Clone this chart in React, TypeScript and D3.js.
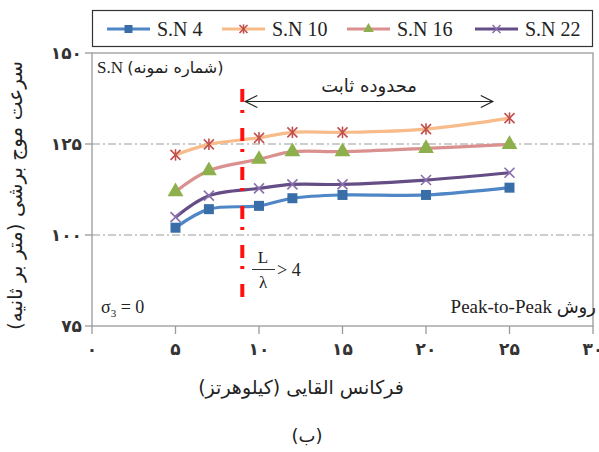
import React from "react";
import * as d3 from "d3";

// Shear-wave velocity vs. induced frequency for four samples
const frequencies = [5, 7, 10, 12, 15, 20, 25];
const sn4 = [102.0, 107.1, 108.0, 110.1, 111.0, 111.0, 113.0];
const sn10 = [122.0, 124.9, 126.7, 128.2, 128.2, 129.1, 132.1];
const sn16 = [111.9, 117.7, 120.8, 122.9, 122.9, 123.8, 124.9];
const sn22 = [104.9, 110.8, 112.8, 113.9, 113.9, 115.1, 117.1];
const seriesNames = ["S.N 4", "S.N 10", "S.N 16", "S.N 22"];
const xTickValues = [0, 5, 10, 15, 20, 25, 30];
const yTickValues = [75, 100, 125, 150];
const gridValues = [100, 125];
const thresholdFreq = 9;

const W = 599;
const H = 452;
const left = 92;
const right = 593;
const top = 53;
const bottom = 326;

const serif = "'Liberation Serif', 'Times New Roman', serif";
const persian = "'DejaVu Sans', 'Noto Sans', sans-serif";

const faDigits = (n: number) =>
  String(n).replace(/[0-9]/g, (d) => "۰۱۲۳۴۵۶۷۸۹"[+d]);

type Marker = "square" | "star" | "triangle" | "cross";
const styles: { line: string; mark: string; marker: Marker }[] = [
  { line: "#4f86c6", mark: "#3a6ea8", marker: "square" },
  { line: "#f8bb8a", mark: "#c0504d", marker: "star" },
  { line: "#d9908e", mark: "#8db04c", marker: "triangle" },
  { line: "#654e86", mark: "#8a70ad", marker: "cross" },
];

function MarkerShape({ kind, x, y, color, size }: { kind: Marker; x: number; y: number; color: string; size: number }) {
  const h = size / 2;
  if (kind === "square") {
    return <rect x={x - h} y={y - h} width={size} height={size} fill={color} />;
  }
  if (kind === "triangle") {
    const p = d3.symbol(d3.symbolTriangle, size * size * 0.75)();
    return <path d={p || ""} transform={`translate(${x},${y})`} fill={color} />;
  }
  const lines = [
    [x - h, y - h, x + h, y + h],
    [x - h, y + h, x + h, y - h],
  ];
  if (kind === "star") lines.push([x, y - h * 1.15, x, y + h * 1.15]);
  return (
    <g stroke={color} strokeWidth={1.6}>
      {lines.map((l, i) => (
        <line key={i} x1={l[0]} y1={l[1]} x2={l[2]} y2={l[3]} />
      ))}
    </g>
  );
}

export default function App() {
  const x = d3.scaleLinear().domain([0, 30]).range([left, right]);
  const y = d3.scaleLinear().domain([75, 150]).range([bottom, top]);
  const allSeries = [sn4, sn10, sn16, sn22];
  const line = d3
    .line<number>()
    .x((_, i) => x(frequencies[i]))
    .y((v) => y(v))
    .curve(d3.curveCatmullRom.alpha(0.5));

  const drawOrder = [1, 2, 3, 0];
  const legendX = [107, 222, 347, 475];
  const legendY = 29;

  const arrowY = 101.5;
  const arrowX0 = x(thresholdFreq) + 3;
  const arrowX1 = x(24.0);

  return (
    <svg
      width={W}
      height={H}
      viewBox={`0 0 ${W} ${H}`}
      style={{ position: "absolute", left: 0, top: 0, background: "#fff" }}
    >
      <rect x={0} y={0} width={W} height={H} fill="#fff" />

      {/* legend */}
      <rect x={92.5} y={10.5} width={500} height={36} fill="#fff" stroke="#333" strokeWidth={1.2} />
      {seriesNames.map((name, i) => (
        <g key={name}>
          <line x1={legendX[i]} x2={legendX[i] + 43} y1={legendY} y2={legendY} stroke={styles[i].line} strokeWidth={3} />
          <MarkerShape kind={styles[i].marker} x={legendX[i] + 21.5} y={legendY} color={styles[i].mark} size={8} />
          <text x={legendX[i] + 50} y={legendY + 7} fontFamily={serif} fontSize={20} fill="#222">
            {name}
          </text>
        </g>
      ))}

      {/* plot frame */}
      <rect x={left} y={top} width={right - left} height={bottom - top} fill="none" stroke="#9a9a9a" strokeWidth={1.3} />

      {/* grid */}
      {gridValues.map((g) => (
        <line key={g} x1={left} x2={right} y1={y(g)} y2={y(g)} stroke="#9c9c9c" strokeWidth={1.2} strokeDasharray="8,3,2,3" />
      ))}

      {/* y axis */}
      {yTickValues.map((t) => (
        <g key={t}>
          <line x1={left - 7} x2={left} y1={y(t)} y2={y(t)} stroke="#9a9a9a" strokeWidth={1.3} />
          <text x={left - 10} y={y(t) + 6} textAnchor="end" fontFamily={persian} fontSize={17} fontWeight="bold" fill="#333">
            {faDigits(t)}
          </text>
        </g>
      ))}
      {/* x axis */}
      {xTickValues.map((t) => (
        <g key={t}>
          <line x1={x(t)} x2={x(t)} y1={bottom} y2={bottom + 8} stroke="#9a9a9a" strokeWidth={1.3} />
          <text x={x(t)} y={bottom + 29} textAnchor="middle" fontFamily={persian} fontSize={17} fontWeight="bold" fill="#333">
            {faDigits(t)}
          </text>
        </g>
      ))}

      {/* series */}
      {drawOrder.map((i) => (
        <path key={`l${i}`} d={line(allSeries[i]) || ""} fill="none" stroke={styles[i].line} strokeWidth={3.2} />
      ))}
      {drawOrder.map((i) =>
        allSeries[i].map((v, j) => (
          <MarkerShape
            key={`m${i}-${j}`}
            kind={styles[i].marker}
            x={x(frequencies[j])}
            y={y(v)}
            color={styles[i].mark}
            size={styles[i].marker === "triangle" ? 12 : 10}
          />
        ))
      )}

      {/* threshold line */}
      <line
        x1={x(thresholdFreq)}
        x2={x(thresholdFreq)}
        y1={89}
        y2={300}
        stroke="#ff1010"
        strokeWidth={4}
        strokeDasharray="13,8,3,15"
      />

      {/* constant range arrow */}
      <g stroke="#222" strokeWidth={1.2} fill="none">
        <line x1={arrowX0} x2={arrowX1} y1={arrowY} y2={arrowY} />
        <polyline points={`${arrowX0 + 12},${arrowY - 6} ${arrowX0},${arrowY} ${arrowX0 + 12},${arrowY + 6}`} />
        <polyline points={`${arrowX1 - 12},${arrowY - 6} ${arrowX1},${arrowY} ${arrowX1 - 12},${arrowY + 6}`} />
      </g>
      <text x={(arrowX0 + arrowX1) / 2} y={92} textAnchor="middle" fontFamily={persian} fontSize={18} fill="#222">
        محدوده ثابت
      </text>

      {/* annotations */}
      <text x={97} y={73} fontFamily={serif} fontSize={17} fill="#222">
        S.N <tspan fontFamily={persian} fontSize={16}>(شماره نمونه)</tspan>
      </text>

      <text x={263} y={263} textAnchor="middle" fontFamily={serif} fontSize={17} fill="#222">L</text>
      <line x1={252} x2={275} y1={269.5} y2={269.5} stroke="#333" strokeWidth={1} />
      <text x={263} y={288} textAnchor="middle" fontFamily={serif} fontSize={17} fill="#222">λ</text>
      <text x={277} y={276} fontFamily={serif} fontSize={18} fill="#222">&gt; 4</text>

      <text x={101} y={313} fontFamily={serif} fontSize={18} fill="#222">
        σ<tspan fontSize={11} dy={4}>3</tspan>
        <tspan dy={-4}> = 0</tspan>
      </text>

      <text x={596} y={313} direction="rtl" textAnchor="start" fontFamily={serif} fontSize={19} fill="#222" style={{ direction: "rtl", unicodeBidi: "embed" }}>
        <tspan fontFamily={persian} fontSize={18}>روش</tspan> Peak-to-Peak
      </text>

      {/* axis titles */}
      <text
        transform={`translate(22,${(top + bottom) / 2 + 6}) rotate(-90)`}
        textAnchor="middle"
        fontFamily={persian}
        fontSize={20}
        fill="#222"
      >
        سرعت موج برشی (متر بر ثانیه)
      </text>
      <text x={301} y={394} textAnchor="middle" fontFamily={persian} fontSize={19} fill="#222">
        فرکانس القایی (کیلوهرتز)
      </text>
      <text x={307} y={442} textAnchor="middle" fontFamily={persian} fontSize={18} fill="#222">
        (ب)
      </text>
    </svg>
  );
}
